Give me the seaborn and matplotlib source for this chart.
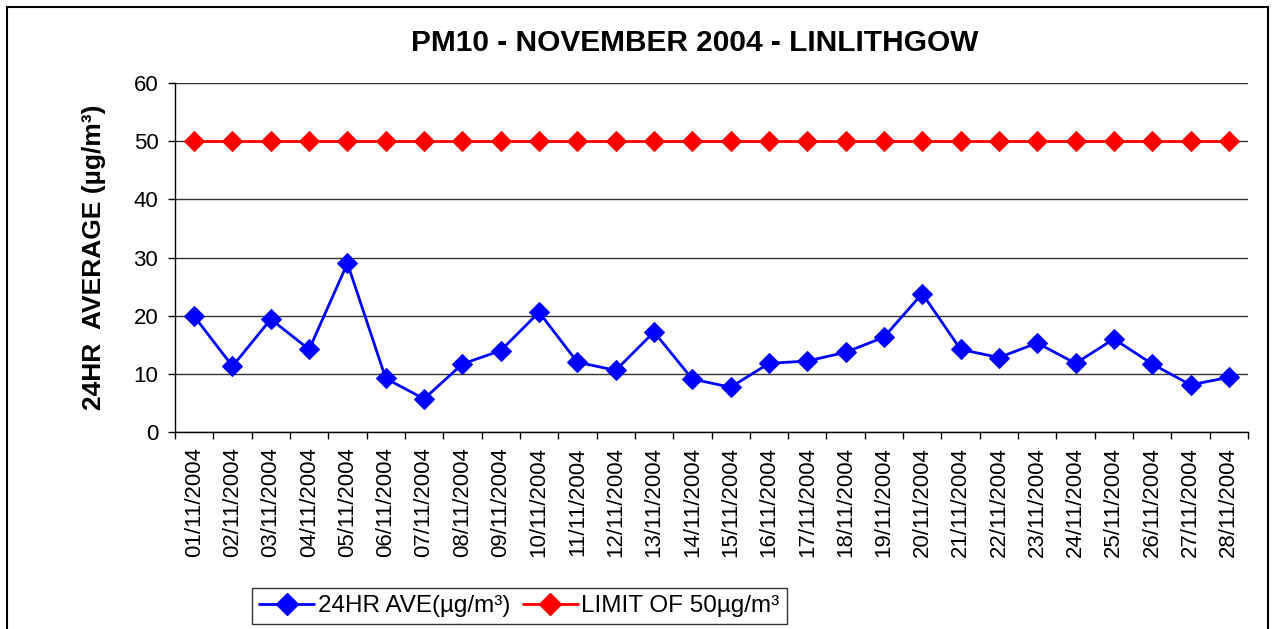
import matplotlib
matplotlib.use("Agg")
import matplotlib.pyplot as plt
import seaborn as sns
import pandas as pd
from matplotlib.patches import Rectangle
from matplotlib.lines import Line2D
from matplotlib.ticker import FixedLocator, NullFormatter

dates = [f"{d:02d}/11/2004" for d in range(1, 29)]
ave_values = [19.9, 11.3, 19.4, 14.2, 29.0, 9.2, 5.7, 11.7, 14.0, 20.6,
              12.0, 10.6, 17.2, 9.1, 7.7, 11.8, 12.2, 13.7, 16.3, 23.8,
              14.2, 12.8, 15.3, 11.8, 16.0, 11.7, 8.1, 9.4]
limit_values = [50] * 28
series_names = ["24HR AVE(µg/m³)", "LIMIT OF 50µg/m³"]

df = pd.DataFrame({
    "date": dates * 2,
    "value": ave_values + limit_values,
    "series": [series_names[0]] * 28 + [series_names[1]] * 28,
})

sns.set_style("white")
plt.rcParams['font.family'] = ['Liberation Sans', 'DejaVu Sans']
for k in ["text.color", "axes.labelcolor", "xtick.color", "ytick.color"]:
    plt.rcParams[k] = "black"

fig = plt.figure(figsize=(12.76, 6.29), dpi=100)
ax = fig.add_axes([175/1276, 1 - 432/629, (1248-175)/1276, (432-83)/629])

sns.lineplot(data=df, x="date", y="value", hue="series",
             palette={series_names[0]: "#0000FF", series_names[1]: "#FF0000"},
             marker="D", markersize=10, markeredgecolor=None, linewidth=2,
             ax=ax, legend=False, sort=False)

ax.set_xlim(-0.5, 27.5)
ax.set_ylim(0, 60)
ax.set_yticks(range(0, 61, 10))
ax.tick_params(axis='y', labelsize=16, length=5, width=1, direction='out', left=True, pad=7)
ax.yaxis.grid(True, color="#333333", linewidth=1)
ax.set_axisbelow(True)

ax.set_xticks(range(28))
ax.set_xticklabels(dates, rotation=90, fontsize=16)
ax.tick_params(axis='x', which='major', length=0, pad=11)
ax.xaxis.set_minor_locator(FixedLocator([i - 0.5 for i in range(29)]))
ax.xaxis.set_minor_formatter(NullFormatter())
ax.tick_params(axis='x', which='minor', length=5, width=1, direction='out', bottom=True)

for s in ["top", "right"]:
    ax.spines[s].set_visible(False)
for s in ["left", "bottom"]:
    ax.spines[s].set_color("black")
    ax.spines[s].set_linewidth(1)

ax.set_xlabel("")
ax.set_ylabel("24HR  AVERAGE (µg/m³)", fontsize=19, fontweight="bold", labelpad=20)
fig.text(695/1276, 1 - 43/629, "PM10 - NOVEMBER 2004 - LINLITHGOW", ha="center", va="center",
         fontsize=21.5, fontweight="bold")

handles = [Line2D([], [], color="#0000FF", marker="D", markersize=11, linewidth=2),
           Line2D([], [], color="#FF0000", marker="D", markersize=11, linewidth=2)]
leg = fig.legend(handles, series_names, loc="center", bbox_to_anchor=(519.5/1276, 1 - 606/629),
                 ncol=2, fontsize=17.5, frameon=True, fancybox=False, handlelength=2.26,
                 columnspacing=0.5, handletextpad=0.16, borderpad=0.3, borderaxespad=0)
leg.get_frame().set_edgecolor("black")
leg.get_frame().set_linewidth(1)

fig.patches.append(Rectangle((7/1276, -0.1), (1268-7)/1276, 1.1 - 7/629,
                             transform=fig.transFigure, fill=False, edgecolor="black", linewidth=1.5))

fig.savefig("out.png", dpi=100)
